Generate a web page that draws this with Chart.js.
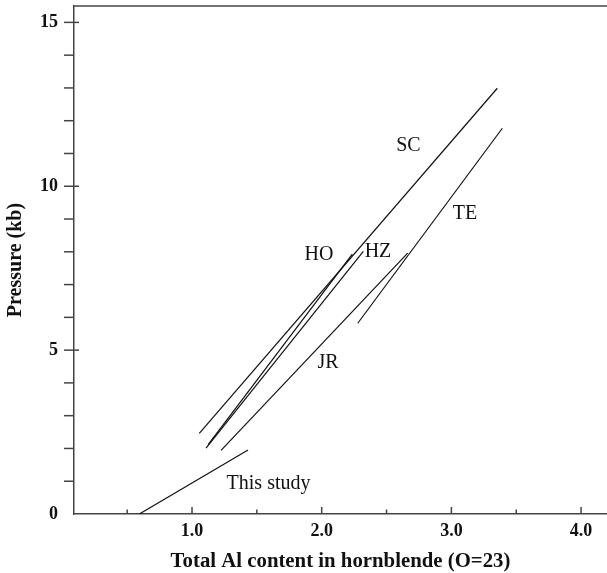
<!DOCTYPE html>
<html>
<head>
<meta charset="utf-8">
<script src="https://cdn.jsdelivr.net/npm/chart.js@4"></script>
<style>
  body { margin: 0; background: #fff; }
  #wrap { width: 607px; height: 573px; }
</style>
</head>
<body>
<div id="wrap"><canvas id="chart" width="607" height="573"></canvas></div>
<script>
// Calibration lines (x = total Al, y = pressure in kb)
const scX = [1.056, 3.354];
const scY = [2.46, 12.99];
const hoX = [1.123, 2.236];
const hoY = [2.11, 7.93];
const hzX = [1.108, 2.321];
const hzY = [2.01, 8.01];
const jrX = [1.224, 2.663];
const jrY = [1.94, 7.96];
const teX = [2.278, 3.393];
const teY = [5.82, 11.77];
const studyX = [0.594, 1.432];
const studyY = [0, 1.95];

// Line labels
const labelText = ['SC', 'TE', 'HO', 'HZ', 'JR', 'This study'];
const labelX = [2.669, 3.105, 1.979, 2.434, 2.049, 1.590];
const labelY = [11.23, 9.17, 7.91, 8.0, 4.62, 0.92];

// Axis ticks
const xTickValues = [1, 2, 3, 4];
const xTickLabels = ['1.0', '2.0', '3.0', '4.0'];
const xMinorTicks = [0.5, 1, 1.5, 2, 2.5, 3, 3.5, 4];
const yTickValues = [0, 5, 10, 15];
const yTickLabels = ['0', '5', '10', '15'];
const yMinorTicks = [1, 2, 3, 4, 5, 6, 7, 8, 9, 10, 11, 12, 13, 14, 15];

const SERIF = '"Liberation Serif", "Times New Roman", serif';
const AXIS_COLOR = '#444';

function pts(xs, ys) {
    return xs.map((x, i) => ({ x: x, y: ys[i] }));
}

function lineSet(xs, ys) {
    return {
        data: pts(xs, ys),
        showLine: true,
        borderColor: '#111',
        borderWidth: 1.2,
        pointRadius: 0,
        fill: false
    };
}

// draws tick marks, top frame line and the text labels
const decorPlugin = {
    id: 'decor',
    afterDraw(chart) {
        const c = chart.ctx;
        const xs = chart.scales.x;
        const ys = chart.scales.y;
        const area = chart.chartArea;
        c.save();
        c.strokeStyle = AXIS_COLOR;
        c.lineWidth = 1.5;

        // top frame
        c.beginPath();
        c.moveTo(area.left, area.top);
        c.lineTo(area.right, area.top);
        c.stroke();

        // x ticks point up into the plot
        xMinorTicks.forEach(v => {
            const px = xs.getPixelForValue(v);
            const len = Number.isInteger(v) ? 7 : 4.5;
            c.beginPath();
            c.moveTo(px, area.bottom);
            c.lineTo(px, area.bottom - len);
            c.stroke();
        });

        // y ticks stick out left, the major ones cross the axis
        yMinorTicks.forEach(v => {
            const py = ys.getPixelForValue(v);
            const major = v % 5 === 0;
            c.beginPath();
            c.moveTo(area.left - 10, py);
            c.lineTo(area.left + (major ? 5 : 0), py);
            c.stroke();
        });

        // line labels
        c.fillStyle = '#111';
        c.font = '20px ' + SERIF;
        c.textAlign = 'center';
        c.textBaseline = 'middle';
        labelText.forEach((t, i) => {
            c.fillText(t, xs.getPixelForValue(labelX[i]), ys.getPixelForValue(labelY[i]));
        });
        c.restore();
    }
};

new Chart(document.getElementById('chart').getContext('2d'), {
    type: 'scatter',
    data: {
        datasets: [
            lineSet(scX, scY),
            lineSet(hoX, hoY),
            lineSet(hzX, hzY),
            lineSet(jrX, jrY),
            lineSet(teX, teY),
            lineSet(studyX, studyY)
        ]
    },
    options: {
        responsive: false,
        animation: false,
        layout: { padding: { top: 6, right: 0, left: 0, bottom: 0 } },
        plugins: {
            legend: { display: false },
            tooltip: { enabled: false }
        },
        scales: {
            x: {
                type: 'linear',
                min: 0.09,
                max: 4.2,
                grid: { display: false, drawTicks: false },
                border: { display: true, color: AXIS_COLOR, width: 1.5 },
                afterBuildTicks: (scale) => {
                    scale.ticks = xTickValues.map(v => ({ value: v }));
                },
                afterFit: (scale) => {
                    scale.height = 59;
                    scale.paddingLeft = 0;
                    scale.paddingRight = 0;
                },
                ticks: {
                    autoSkip: false,
                    maxRotation: 0,
                    padding: 7,
                    color: '#111',
                    font: { family: SERIF, size: 18, weight: 'bold' },
                    callback: (value, index) => xTickLabels[index]
                },
                title: {
                    display: true,
                    text: 'Total Al content in hornblende (O=23)',
                    color: '#111',
                    padding: { top: 0, bottom: -1 },
                    font: { family: SERIF, size: 20.8, weight: 'bold' }
                }
            },
            y: {
                type: 'linear',
                min: 0,
                max: 15.5,
                grid: { display: false, drawTicks: false },
                border: { display: true, color: AXIS_COLOR, width: 1.5 },
                afterBuildTicks: (scale) => {
                    scale.ticks = yTickValues.map(v => ({ value: v }));
                },
                afterFit: (scale) => {
                    scale.width = 74;
                    scale.paddingTop = 0;
                    scale.paddingBottom = 0;
                },
                ticks: {
                    autoSkip: false,
                    padding: 16,
                    color: '#111',
                    font: { family: SERIF, size: 18, weight: 'bold' },
                    callback: (value, index) => yTickLabels[index]
                },
                title: {
                    display: true,
                    text: 'Pressure (kb)',
                    color: '#111',
                    padding: { top: 4, bottom: 4 },
                    font: { family: SERIF, size: 20, weight: 'bold' }
                }
            }
        }
    },
    plugins: [decorPlugin]
});
</script>
</body>
</html>
